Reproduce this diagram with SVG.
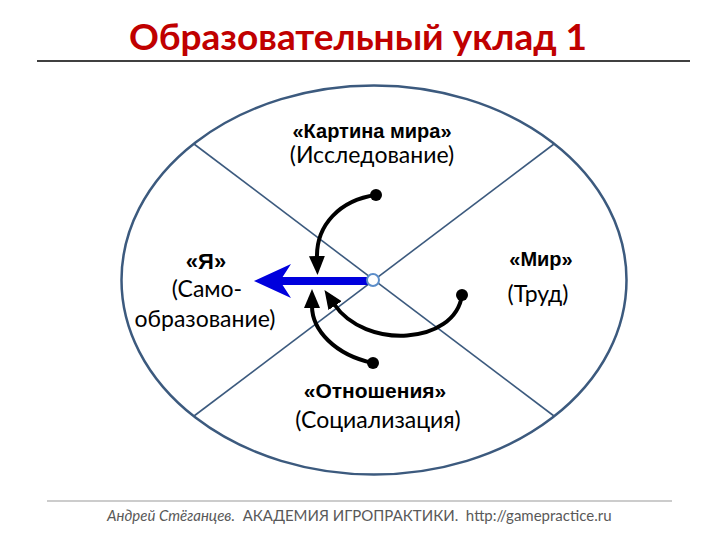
<svg xmlns="http://www.w3.org/2000/svg" width="720" height="540" viewBox="0 0 720 540">
<defs>
<style>
.bold{font-family:"Liberation Sans",Arial,sans-serif;font-weight:bold;font-size:20px;fill:#000;text-anchor:middle}
.reg{font-family:Lato,"Open Sans",sans-serif;font-size:23px;fill:#000;text-anchor:middle}
.frame{fill:none;stroke:#3C5A7E}
.conn{fill:none;stroke:#000;stroke-width:4}
</style>
<marker id="ah" markerUnits="userSpaceOnUse" markerWidth="22" markerHeight="18" refX="2" refY="8" orient="auto">
<path d="M0,0 L19,8 L0,16 z" fill="#000"/>
</marker>
</defs>
<rect width="720" height="540" fill="#fff"/>
<g id="title">
<text x="358" y="50" font-family="Lato,'Open Sans',sans-serif" font-weight="bold" font-size="37" fill="#C00000" text-anchor="middle">Образовательный уклад 1</text>
<line x1="37" y1="61" x2="690" y2="61" stroke="#000" stroke-width="1.5"/>
</g>
<g id="circle">
<ellipse cx="374" cy="280" rx="252.5" ry="194.5" class="frame" stroke-width="2.5"/>
<line x1="194" y1="144" x2="554" y2="416" class="frame" stroke-width="1.6"/>
<line x1="554" y1="144" x2="194" y2="416" class="frame" stroke-width="1.6"/>
</g>
<g id="node-kartina">
<text x="372" y="138" class="bold">«Картина мира»</text>
<text x="372" y="163" class="reg">(Исследование)</text>
</g>
<g id="node-ya">
<text x="206" y="269" class="bold" style="font-size:22px">«Я»</text>
<text x="207" y="297" class="reg">(Само-</text>
<text x="205" y="327" class="reg">образование)</text>
</g>
<g id="node-mir">
<text x="541" y="266" class="bold">«Мир»</text>
<text x="538" y="302" class="reg">(Труд)</text>
</g>
<g id="node-otnosheniya">
<text x="375" y="398" class="bold" style="font-size:21px">«Отношения»</text>
<text x="378" y="428" class="reg">(Социализация)</text>
</g>
<g id="connectors">
<path d="M376,195 C340,200 316,225 317,258" class="conn" marker-end="url(#ah)"/>
<path d="M462,295 C455,345 365,350 334,304" class="conn" marker-end="url(#ah)"/>
<path d="M373,363 C335,355 312,330 312,306" class="conn" marker-end="url(#ah)"/>
<circle cx="376" cy="195" r="6" fill="#000"/>
<circle cx="462" cy="295" r="6" fill="#000"/>
<circle cx="373" cy="363" r="6" fill="#000"/>
<line x1="280" y1="281" x2="368" y2="281" stroke="#0000DD" stroke-width="8"/>
<polygon points="254,281 291,264 280,281 291,298" fill="#0000DD"/>
<circle cx="373" cy="280" r="6" fill="#fff" stroke="#5B8DC9" stroke-width="2"/>
</g>
<g id="footer">
<line x1="47" y1="501" x2="672" y2="501" stroke="#999" stroke-width="1"/>
<text x="107" y="521" font-family="Lato,'Open Sans',sans-serif" font-size="15" fill="#595959" xml:space="preserve"><tspan font-style="italic">Андрей Стёганцев.</tspan>  АКАДЕМИЯ ИГРОПРАКТИКИ.  http://gamepractice.ru</text>
</g>
</svg>
